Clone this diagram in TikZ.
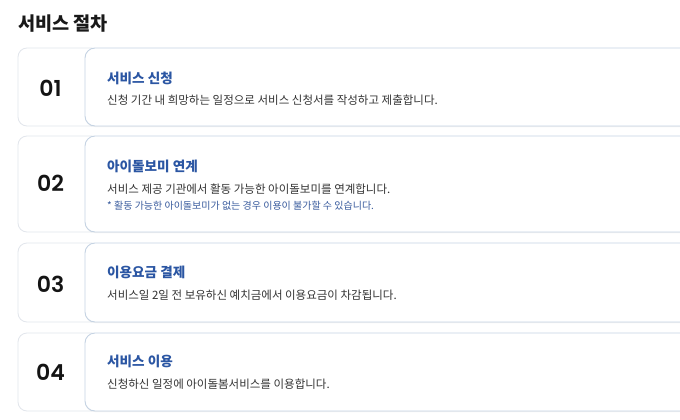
\documentclass[tikz,border=0pt]{standalone}
\usepackage{fontspec}
\setmainfont{Noto Sans CJK KR}
\newfontfamily\numfont{Poppins SemiBold}
\usetikzlibrary{shadows}
\definecolor{headblue}{HTML}{2B56A3}
\definecolor{noteblue}{HTML}{3A5C9E}
\definecolor{desc}{HTML}{333333}
\definecolor{numbd}{HTML}{E2E6EC}
\definecolor{cardbd}{HTML}{C5D3E3}
\tikzset{
  numbox/.style={draw=numbd, line width=0.8pt, fill=white, rounded corners=9pt},
  cardbox/.style={draw=cardbd, line width=0.9pt, fill=white, rounded corners=10pt,
     drop shadow={opacity=0.10, shadow xshift=0pt, shadow yshift=-1pt}},
  numtxt/.style={font=\numfont\fontsize{22}{22}\selectfont, text=black!92, anchor=center, inner sep=0pt},
  headtxt/.style={font=\bfseries\fontsize{13.6}{15}\selectfont, text=headblue, anchor=base west, inner sep=0pt},
  desctxt/.style={font=\fontsize{11.5}{13}\selectfont, text=desc, anchor=base west, inner sep=0pt},
  notetxt/.style={font=\fontsize{10}{12}\selectfont, text=noteblue, anchor=base west, inner sep=0pt},
  titletxt/.style={font=\bfseries\fontsize{18.6}{20}\selectfont, text=black!90, anchor=base west, inner sep=0pt}
}
\begin{document}
\begin{tikzpicture}[x=1pt,y=-1pt]
\useasboundingbox (0,0) rectangle (680,420);
\clip (0,0) rectangle (680,420);
\fill[white] (0,0) rectangle (680,420);
\node[titletxt] (title) at (18,31) {서비스 절차};
% step 1
\draw[numbox] (18,48) rectangle (100,126);
\draw[cardbox] (85,48) rectangle (700,126);
\node[numtxt] (n1) at (50.5,88) {01};
\node[headtxt] (h1) at (107,83.5) {서비스 신청};
\node[desctxt] (d1) at (107,104.5) {신청 기간 내 희망하는 일정으로 서비스 신청서를 작성하고 제출합니다.};
% step 2
\draw[numbox] (18,136) rectangle (100,232);
\draw[cardbox] (85,136) rectangle (700,232);
\node[numtxt] (n2) at (50.5,183) {02};
\node[headtxt] (h2) at (107,171) {아이돌보미 연계};
\node[desctxt] (d2) at (107,193.5) {서비스 제공 기관에서 활동 가능한 아이돌보미를 연계합니다.};
\node[notetxt] (nt2) at (107,209) {* 활동 가능한 아이돌보미가 없는 경우 이용이 불가할 수 있습니다.};
% step 3
\draw[numbox] (18,243) rectangle (100,322);
\draw[cardbox] (85,243) rectangle (700,322);
\node[numtxt] (n3) at (50.5,284) {03};
\node[headtxt] (h3) at (107,277.5) {이용요금 결제};
\node[desctxt] (d3) at (107,299) {서비스일 2일 전 보유하신 예치금에서 이용요금이 차감됩니다.};
% step 4
\draw[numbox] (18,333) rectangle (100,411);
\draw[cardbox] (85,333) rectangle (700,411);
\node[numtxt] (n4) at (50.5,372) {04};
\node[headtxt] (h4) at (107,366.5) {서비스 이용};
\node[desctxt] (d4) at (107,388) {신청하신 일정에 아이돌봄서비스를 이용합니다.};
\end{tikzpicture}
\end{document}
